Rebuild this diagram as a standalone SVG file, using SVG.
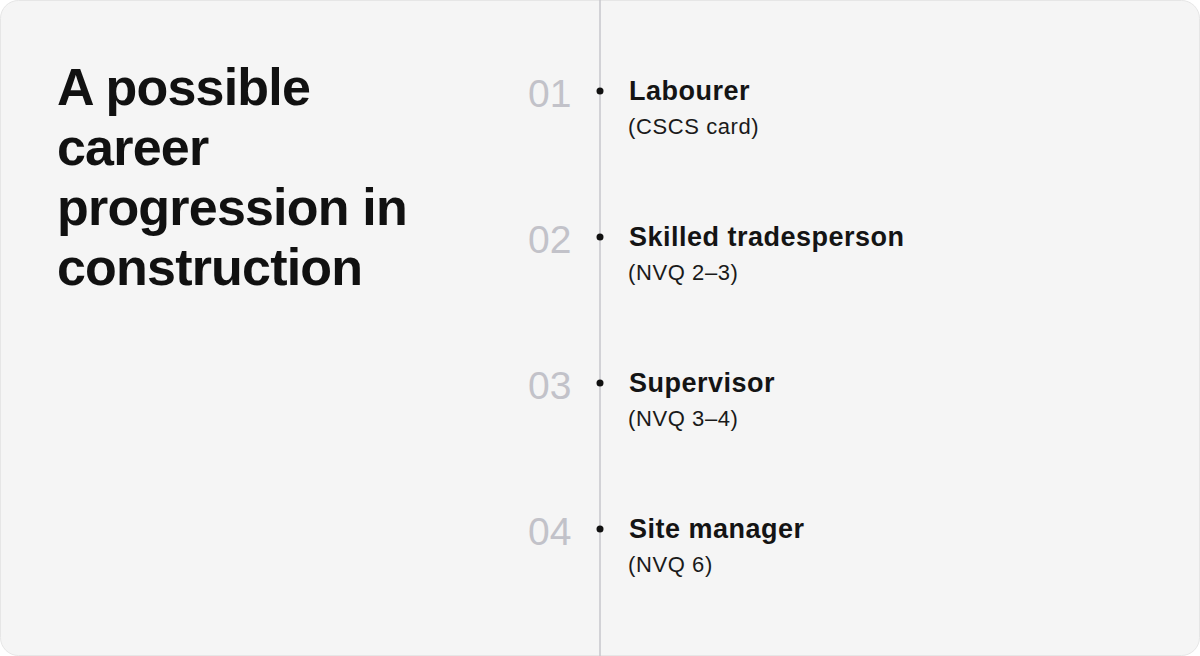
<svg xmlns="http://www.w3.org/2000/svg" width="1200" height="656" viewBox="0 0 1200 656">
<style>
.title{font-family:"Liberation Sans",Arial,sans-serif;font-weight:700;font-size:52px;letter-spacing:-0.8px;fill:#111}
.num{font-family:"Liberation Sans",Arial,sans-serif;font-size:39px;fill:#c2c2c9}
.head{font-family:"Liberation Sans",Arial,sans-serif;font-weight:700;font-size:27px;letter-spacing:0.5px;fill:#141414}
.sub{font-family:"Liberation Sans",Arial,sans-serif;font-size:22px;letter-spacing:0.6px;fill:#1a1a1a}
.dot{fill:#111}
</style>
<rect x="0" y="0" width="1200" height="656" fill="#ffffff"/>
<rect x="0.5" y="0.5" width="1199" height="655" rx="18" fill="#f5f5f5" stroke="#e6e6e6"/>
<g id="title">
<text class="title" x="57" y="105">A possible</text>
<text class="title" x="57" y="165">career</text>
<text class="title" x="57" y="225">progression in</text>
<text class="title" x="57" y="285">construction</text>
</g>
<g id="connectors">
<line x1="600" y1="0" x2="600" y2="656" stroke="#c6c6cb" stroke-width="1.5"/>
</g>
<g id="step1">
<text class="num" x="528" y="107">01</text>
<circle class="dot" cx="600" cy="91" r="3.5"/>
<text class="head" x="629" y="100">Labourer</text>
<text class="sub" x="628" y="134">(CSCS card)</text>
</g>
<g id="step2">
<text class="num" x="528" y="253">02</text>
<circle class="dot" cx="600" cy="237" r="3.5"/>
<text class="head" x="629" y="246">Skilled tradesperson</text>
<text class="sub" x="628" y="280">(NVQ 2–3)</text>
</g>
<g id="step3">
<text class="num" x="528" y="399">03</text>
<circle class="dot" cx="600" cy="383" r="3.5"/>
<text class="head" x="629" y="392">Supervisor</text>
<text class="sub" x="628" y="426">(NVQ 3–4)</text>
</g>
<g id="step4">
<text class="num" x="528" y="545">04</text>
<circle class="dot" cx="600" cy="529" r="3.5"/>
<text class="head" x="629" y="538">Site manager</text>
<text class="sub" x="628" y="572">(NVQ 6)</text>
</g>
</svg>
